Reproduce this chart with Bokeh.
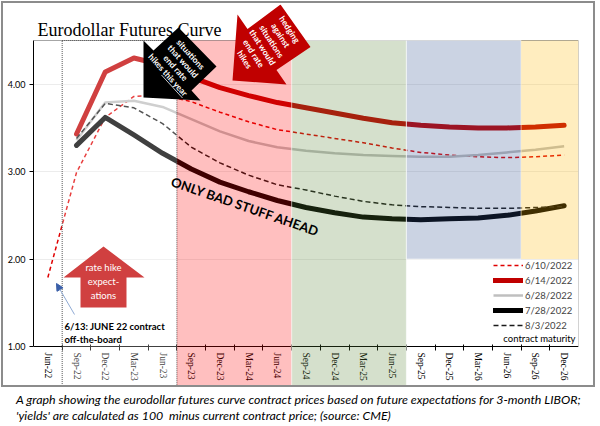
from bokeh.plotting import figure
from bokeh.models import (Range1d, FixedTicker, NumeralTickFormatter, BoxAnnotation,
                          PolyAnnotation, Label, Arrow, NormalHead, Div)
from bokeh.layouts import column
from bokeh.embed import file_html
from bokeh.resources import INLINE

nan = float("nan")

categories = ["Jun-22", "Sep-22", "Dec-22", "Mar-23", "Jun-23", "Sep-23", "Dec-23", "Mar-24",
              "Jun-24", "Sep-24", "Dec-24", "Mar-25", "Jun-25", "Sep-25", "Dec-25", "Mar-26",
              "Jun-26", "Sep-26", "Dec-26"]
y_0610 = [1.79, 2.99, 3.62, 3.86, 3.88, 3.80, 3.68, 3.57, 3.48, 3.43, 3.38, 3.33, 3.27, 3.22,
          3.19, 3.17, 3.16, 3.17, 3.19]
y_0614 = [nan, 3.43, 4.14, 4.30, 4.22, 4.08, 3.96, 3.87, 3.79, 3.73, 3.67, 3.61, 3.56, 3.53,
          3.51, 3.50, 3.50, 3.51, 3.53]
y_0628 = [nan, 3.36, 3.79, 3.81, 3.74, 3.60, 3.46, 3.35, 3.28, 3.24, 3.21, 3.19, 3.18, 3.17,
          3.17, 3.19, 3.22, 3.25, 3.29]
y_0728 = [nan, 3.30, 3.62, 3.42, 3.21, 3.03, 2.88, 2.77, 2.67, 2.59, 2.53, 2.48, 2.46, 2.45,
          2.46, 2.47, 2.50, 2.55, 2.61]
y_0803 = [nan, 3.38, 3.78, 3.73, 3.55, 3.28, 3.10, 2.96, 2.85, 2.79, 2.72, 2.66, 2.62, 2.60,
          2.59, 2.58, 2.58, 2.59, 2.60]
y_ticks = [1, 2, 3, 4]

xs = [i + 0.5 for i in range(len(categories))]

# page-pixel -> data helpers for annotations
FL, FR, FT, FB = 33, 578, 40, 346
N = len(categories)
YMIN, YMAX = 1.0, 4.5


def X(px):
    return (px - FL) / (FR - FL) * N


def Y(py):
    return YMIN + (FB - py) / (FB - FT) * (YMAX - YMIN)


p = figure(width=594, height=386, output_backend="svg", toolbar_location=None, title=None,
           x_range=Range1d(0, N), y_range=Range1d(Y(388), Y(4)),
           min_border_left=30, min_border_right=19, min_border_top=1, min_border_bottom=1)
p.styles = {"border": "2px solid #8c8c8c", "margin-left": "1px", "margin-top": "1px"}

p.outline_line_color = None
p.xgrid.grid_line_color = None
p.ygrid.grid_line_color = "#ececec"
p.ygrid.ticker = FixedTicker(ticks=y_ticks[1:])

xa = p.xaxis[0]
xa.fixed_location = YMIN
xa.ticker = FixedTicker(ticks=xs, minor_ticks=list(range(1, N)))
xa.major_label_overrides = {x: c for x, c in zip(xs, categories)}
xa.major_label_orientation = "vertical"
xa.major_tick_line_color = None
xa.major_tick_out = 4
xa.major_tick_in = 0
xa.minor_tick_in = 2
xa.minor_tick_out = 4
xa.minor_tick_line_color = "black"
xa.axis_line_color = "black"
xa.major_label_standoff = 2
xa.major_label_text_font = "Liberation Serif"
xa.major_label_text_font_size = "9.5px"
xa.major_label_text_color = "black"

ya = p.yaxis[0]
ya.bounds = (YMIN, YMAX)
ya.ticker = FixedTicker(ticks=y_ticks)
ya.formatter = NumeralTickFormatter(format="0.00")
ya.minor_tick_line_color = None
ya.major_tick_in = 0
ya.major_tick_out = 4
ya.axis_line_color = "black"
ya.major_label_text_font = "Lato"
ya.major_label_text_font_size = "9px"
ya.major_label_text_color = "black"
ya.major_label_standoff = 4

# plot-area border (top and right)
p.segment(x0=[0, N], y0=[YMAX, YMIN], x1=[N, N], y1=[YMAX, YMAX], line_color="#a6a6a6",
          line_width=1)

# series
p.line(xs, y_0610, line_color="#E00000", line_width=1.5, line_dash="4 3", legend_label="6/10/2022")
p.line(xs, y_0614, line_color="#C00000", line_width=5, line_cap="round", line_join="round",
       legend_label="6/14/2022")
p.line(xs, y_0628, line_color="#BFBFBF", line_width=2.5, line_join="round", legend_label="6/28/2022")
p.line(xs, y_0728, line_color="#000000", line_width=5, line_cap="round", line_join="round",
       legend_label="7/28/2022")
p.line(xs, y_0803, line_color="#1a1a1a", line_width=1.5, line_dash="5 3", legend_label="8/3/2022")

lg = p.legend[0]
lg.location = (460, 56)
lg.padding = 0
lg.margin = 0
lg.spacing = 1
lg.label_height = 14
lg.glyph_height = 14
lg.glyph_width = 30
lg.label_standoff = 2
lg.label_text_font = "Lato"
lg.label_text_font_size = "9.5px"
lg.border_line_color = None
lg.background_fill_alpha = 0

# red up arrow (under the white veil)
up_px = [(103, 246), (144, 277), (126, 277), (126, 307), (80, 307), (80, 277), (63, 277)]
p.add_layout(PolyAnnotation(xs=[X(a) for a, b in up_px], ys=[Y(b) for a, b in up_px],
                            fill_color="#C00000", fill_alpha=1, line_color=None))

# bands
bottom_lbl = Y(388)
p.add_layout(BoxAnnotation(left=1, right=5, bottom=bottom_lbl, top=YMAX, fill_color="white",
                           fill_alpha=0.25, line_color="#555555", line_dash="1 1", line_width=1,
                           line_alpha=1))
p.add_layout(BoxAnnotation(left=5, right=9, bottom=bottom_lbl, top=YMAX, fill_color="#FF0000",
                           fill_alpha=0.25, line_color=None))
p.add_layout(BoxAnnotation(left=9, right=13, bottom=bottom_lbl, top=YMAX, fill_color="#578333",
                           fill_alpha=0.25, line_color="white", line_alpha=0.6, line_width=1))
p.add_layout(BoxAnnotation(left=13, right=17, bottom=2.0, top=YMAX, fill_color="#2F4F8F",
                           fill_alpha=0.25, line_color="white", line_alpha=0.6, line_width=1))
p.add_layout(BoxAnnotation(left=17, right=19, bottom=2.0, top=YMAX, fill_color="#FFB700",
                           fill_alpha=0.25, line_color=None))

for txt, cy in [("rate hike", 267), ("expect-", 281), ("ations", 295)]:
    p.add_layout(Label(x=X(103), y=Y(cy), text=txt, text_align="center", text_baseline="middle",
                       text_font="Lato", text_font_size="9.5px", text_color="white"))

# black arrow
blk_px = [(143, 40), (153, 50), (178, 27), (216, 66), (191, 90), (200, 100), (143, 97)]
p.add_layout(PolyAnnotation(xs=[X(a) for a, b in blk_px], ys=[Y(b) for a, b in blk_px],
                            fill_color="black", fill_alpha=1, line_color=None))
for txt, (cx, cy) in [("situations", (190, 54)), ("that would", (182.5, 61)),
                      ("end rate", (175, 67.5)), ("hikes this year", (167.5, 74.5))]:
    p.add_layout(Label(x=X(cx), y=Y(cy), text=txt, angle=-48, angle_units="deg",
                       text_align="center", text_baseline="middle", text_font="Lato",
                       text_font_style="bold", text_font_size="8.5px", text_color="white"))
# underline of "this year"
p.add_layout(Arrow(x_start=X(161), y_start=Y(74.5), x_end=X(182), y_end=Y(97.5), start=None,
                   end=None, line_color="white", line_width=0.8))

# red arrow
red_px = [(237, 14), (247, 28.5), (280, 4), (310, 46.5), (276, 69.5), (286, 84), (232, 80)]
p.add_layout(PolyAnnotation(xs=[X(a) for a, b in red_px], ys=[Y(b) for a, b in red_px],
                            fill_color="#C00000", fill_alpha=1, line_color=None))
for txt, (cx, cy) in [("hedging", (289, 29)), ("against", (280, 35)), ("situations", (271, 41)),
                      ("that would", (262, 47)), ("end rate", (253, 53)), ("hikes", (244, 59))]:
    p.add_layout(Label(x=X(cx), y=Y(cy), text=txt, angle=-57, angle_units="deg",
                       text_align="center", text_baseline="middle", text_font="Lato",
                       text_font_style="bold", text_font_size="8.5px", text_color="white"))

# only bad stuff
p.add_layout(Label(x=X(245), y=Y(206), text="ONLY BAD STUFF AHEAD", angle=-19, angle_units="deg",
                   text_align="center", text_baseline="middle", text_font="Lato",
                   text_font_style="bold", text_font_size="13px", text_color="black"))

# off-the-board note
p.add_layout(Arrow(x_start=X(74), y_start=Y(314), x_end=X(56), y_end=Y(283),
                   line_color="#8faad4", line_width=1,
                   end=NormalHead(size=7, fill_color="#3a5fa8", line_color="#3a5fa8")))
for txt, cy in [("6/13: JUNE 22 contract", 326), ("off-the-board", 339)]:
    p.add_layout(Label(x=X(64), y=Y(cy), text=txt, text_align="left", text_baseline="middle",
                       text_font="Lato", text_font_style="bold", text_font_size="9.5px",
                       text_color="black"))

p.add_layout(Label(x=X(575), y=Y(338), text="contract maturity", text_align="right",
                   text_baseline="middle", text_font="Lato", text_font_size="9.5px",
                   text_color="black"))

# title
p.add_layout(Label(x=X(37), y=Y(29), text="Eurodollar Futures Curve", text_align="left",
                   text_baseline="alphabetic", text_font="Liberation Serif",
                   text_font_size="18px", text_color="black"))

caption = Div(text=("A graph showing the eurodollar futures curve contract prices based on future "
                    "expectations for 3-month LIBOR;<br>'yields' are calculated as 100&nbsp; minus "
                    "current contract price; (source: CME)"),
              width=600, height=34,
              styles={"font-family": "Lato", "font-style": "italic", "font-size": "12.4px",
                      "line-height": "16px", "padding-left": "11px", "margin-top": "5px",
                      "color": "black"})

layout = column(p, caption, spacing=0)
open("out.html", "w").write(file_html(layout, INLINE))
